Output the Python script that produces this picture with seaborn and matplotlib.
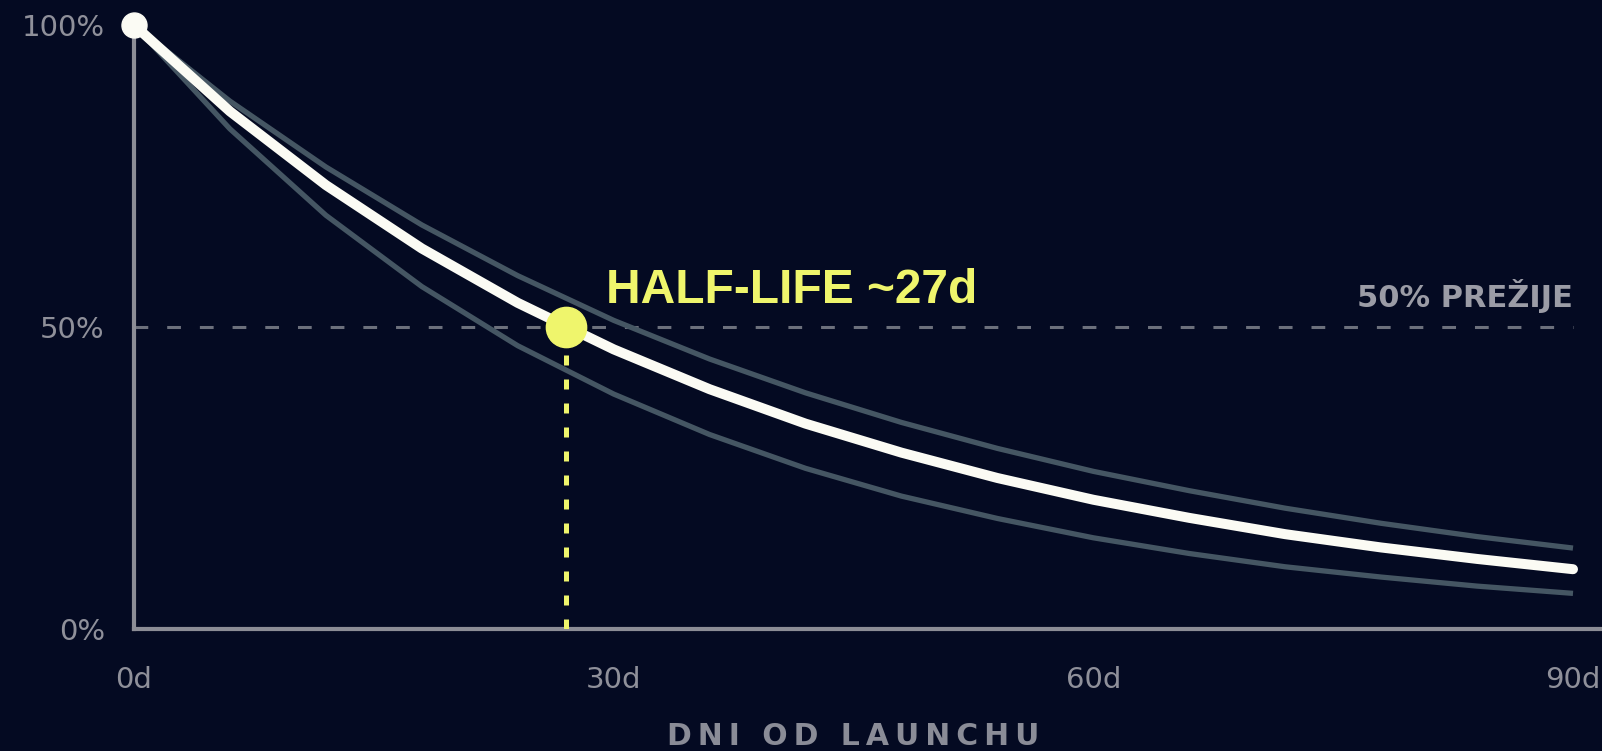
import matplotlib
matplotlib.use("Agg")
import matplotlib.pyplot as plt
import seaborn as sns
import pandas as pd

# DATA (one point every 6 days)
days = [0, 6, 12, 18, 24, 30, 36, 42, 48, 54, 60, 66, 72, 78, 84, 90]
median = [100, 85.7, 73.5, 63.0, 54.0, 46.3, 39.7, 34.0, 29.2, 25.0, 21.4, 18.4, 15.7, 13.5, 11.6, 9.9]
upper = [100, 87.4, 76.5, 66.9, 58.5, 51.1, 44.7, 39.1, 34.2, 29.9, 26.1, 22.9, 20.0, 17.5, 15.3, 13.4]
lower = [100, 82.8, 68.5, 56.7, 46.9, 38.9, 32.2, 26.6, 22.0, 18.3, 15.1, 12.5, 10.3, 8.6, 7.1, 5.9]
half_life = 27
survive_level = 50
x_ticks = [0, 30, 60, 90]
x_labels = ["0d", "30d", "60d", "90d"]
y_ticks = [0, 50, 100]
y_labels = ["0%", "50%", "100%"]

BG = "#040a22"
YELLOW = "#eff56c"
GREY_LINE = "#455663"
AXIS = "#8c8d96"
TEXT = "#8f909a"

df = pd.DataFrame({"day": days, "median": median, "upper": upper, "lower": lower})

sns.set_theme(style="white")
plt.rcParams["font.family"] = ["DejaVu Sans"]

fig = plt.figure(figsize=(16.02, 7.51), dpi=100, facecolor=BG)
ax = fig.add_axes([134 / 1602, 122 / 751, 1468 / 1602, 604 / 751])
ax.set_facecolor(BG)

# 50% REFERENCE LINE
ax.hlines(survive_level, 0, 90, color="#6c707c", lw=2.2,
          linestyle=(0, (4.5, 6.2)), zorder=1)

# BAND LINES
sns.lineplot(data=df, x="day", y="upper", ax=ax, color=GREY_LINE, lw=3.8,
             solid_capstyle="butt", zorder=2)
sns.lineplot(data=df, x="day", y="lower", ax=ax, color=GREY_LINE, lw=3.8,
             solid_capstyle="butt", zorder=2)

# MAIN CURVE
sns.lineplot(data=df, x="day", y="median", ax=ax, color="#fbfbf4", lw=7.2,
             solid_capstyle="round", solid_joinstyle="round", zorder=3)
ax.plot(days[0], median[0], "o", ms=18, color="#fbfbf4", clip_on=False, zorder=4)

# HALF-LIFE MARKER
ax.vlines(half_life, 0, survive_level, color=YELLOW, lw=3.6,
          linestyle=(0, (2.0, 2.8)), zorder=3)
ax.plot(half_life, survive_level, "o", ms=29, color=YELLOW, zorder=5)
ax.text(29.5, 54.0, "HALF-LIFE ~27d", color=YELLOW, fontsize=34.5,
        fontweight="bold", family=["Liberation Sans", "DejaVu Sans"],
        va="baseline", ha="left", zorder=6)
ax.text(90, 53.3, "50% PREŽIJE", color="#9b9ca6", fontsize=22,
        fontweight="bold", va="baseline", ha="right")

# AXES
ax.set_xlim(0, 90 * 1468 / 1439)
ax.set_ylim(0, 100)
ax.set_xticks(x_ticks)
ax.set_xticklabels(x_labels)
ax.set_yticks(y_ticks)
ax.set_yticklabels(y_labels)
ax.tick_params(axis="x", length=0, pad=27, labelsize=21, labelcolor=TEXT)
ax.tick_params(axis="y", length=0, pad=21, labelsize=21, labelcolor=TEXT)
ax.set_xlabel("")
ax.set_ylabel("")
for side in ["top", "right"]:
    ax.spines[side].set_visible(False)
for side in ["left", "bottom"]:
    ax.spines[side].set_color(AXIS)
    ax.spines[side].set_linewidth(3)
ax.grid(False)

label = "\u2009 \u2009".join("\u2009".join(w) for w in ["DNI", "OD", "LAUNCHU"])
ax.text(45, -(745 - 629) / 604, label, transform=ax.get_xaxis_transform(),
        color="#8a8c97", fontsize=21.5, fontweight="bold",
        ha="center", va="baseline")

fig.savefig("out.png", dpi=100, facecolor=BG)
